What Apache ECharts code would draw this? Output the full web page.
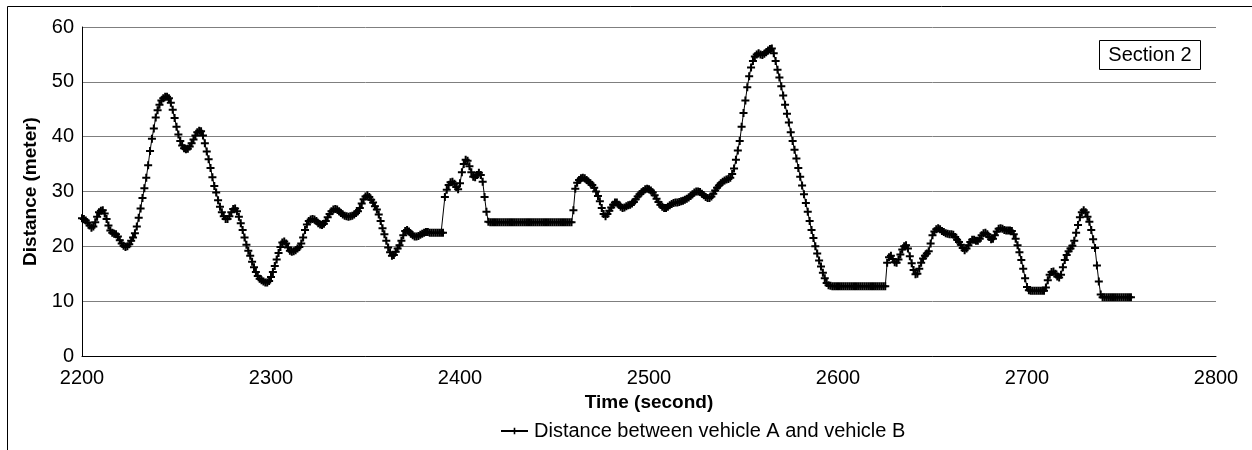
<!DOCTYPE html>
<html>
<head>
<meta charset="utf-8">
<script src="https://cdn.jsdelivr.net/npm/echarts@6/dist/echarts.min.js"></script>
<style>
html,body{margin:0;padding:0;background:#fff;}
#chart{width:1252px;height:450px;}
</style>
</head>
<body>
<div id="chart"></div>
<script>
// ---- data ----
const seriesName = 'Distance between vehicle A and vehicle B';
const startTime = 2200; // seconds, one sample per second
const distance = [
25.1,25.0,24.7,24.3,23.8,23.4,23.6,24.4,25.4,26.2,
26.5,26.6,26.0,25.0,23.8,22.9,22.5,22.3,22.2,21.8,
21.1,20.5,20.1,19.9,20.0,20.4,21.0,21.6,22.4,23.6,
25.2,26.9,28.8,30.6,32.5,34.8,37.4,39.6,41.5,43.5,
44.8,45.8,46.6,47.0,47.3,47.3,47.0,46.2,44.9,43.4,
41.8,40.4,39.2,38.4,37.9,37.7,37.8,38.2,38.8,39.5,
40.2,40.8,41.1,41.0,40.2,38.8,37.3,35.9,34.3,32.6,
31.0,29.8,28.4,27.2,26.2,25.5,25.0,25.0,25.5,26.2,
26.8,26.9,26.4,25.4,24.2,23.0,21.6,20.3,19.2,18.3,
17.2,16.2,15.3,14.6,14.1,13.8,13.6,13.4,13.4,13.7,
14.4,15.3,16.4,17.6,18.8,19.9,20.7,20.9,20.5,19.8,
19.2,19.0,19.1,19.3,19.6,19.9,20.5,21.6,23.0,24.0,
24.6,24.9,25.0,24.9,24.6,24.2,24.0,23.9,24.1,24.6,
25.3,25.9,26.4,26.7,26.8,26.7,26.4,26.1,25.8,25.6,
25.5,25.4,25.5,25.6,25.8,26.1,26.4,27.0,27.8,28.6,
29.1,29.3,29.0,28.5,28.0,27.3,26.7,25.8,24.6,23.3,
22.2,21.0,19.8,18.9,18.3,18.4,19.0,19.6,20.2,21.0,
22.0,22.8,23.0,22.7,22.3,22.0,21.8,21.8,21.9,22.1,
22.3,22.5,22.6,22.6,22.5,22.5,22.5,22.5,22.5,22.5,
22.5,22.5,29.0,30.3,31.2,31.7,31.8,31.4,30.8,30.4,
31.5,33.5,35.0,35.8,35.6,34.6,33.5,32.7,32.6,33.0,
33.4,33.0,31.8,29.0,26.3,24.5,24.4,24.4,24.4,24.4,
24.4,24.4,24.4,24.4,24.4,24.4,24.4,24.4,24.4,24.4,
24.4,24.4,24.4,24.4,24.4,24.4,24.4,24.4,24.4,24.4,
24.4,24.4,24.4,24.4,24.4,24.4,24.4,24.4,24.4,24.4,
24.4,24.4,24.4,24.4,24.4,24.4,24.4,24.4,24.4,24.4,
26.6,30.5,31.6,32.1,32.4,32.5,32.4,32.1,31.8,31.5,
31.2,30.7,30.0,29.2,28.2,27.0,25.9,25.5,25.9,26.5,
27.1,27.6,28.0,28.0,27.6,27.2,27.0,27.1,27.3,27.5,
27.6,27.8,28.1,28.6,29.1,29.5,29.8,30.1,30.4,30.5,
30.4,30.2,29.8,29.3,28.7,28.1,27.6,27.2,27.0,27.0,
27.2,27.5,27.7,27.9,28.0,28.0,28.1,28.2,28.3,28.5,
28.7,28.9,29.2,29.5,29.8,30.0,30.0,29.9,29.6,29.3,
29.0,28.8,28.8,29.1,29.6,30.2,30.7,31.1,31.5,31.8,
32.0,32.2,32.3,32.5,33.2,34.2,35.8,37.5,39.2,41.8,
44.3,46.6,49.0,51.0,52.6,53.8,54.6,55.0,55.2,55.0,
54.9,55.1,55.4,55.7,56.0,56.1,55.2,53.8,52.2,50.8,
49.2,47.5,45.8,44.2,42.6,40.8,39.2,37.6,36.0,34.3,
32.7,31.1,29.5,27.9,26.3,24.6,23.0,21.5,20.0,18.7,
17.4,16.3,15.2,14.2,13.3,12.9,12.8,12.7,12.7,12.7,
12.7,12.7,12.7,12.7,12.7,12.7,12.7,12.7,12.7,12.7,
12.7,12.7,12.7,12.7,12.7,12.7,12.7,12.7,12.7,12.7,
12.7,12.7,12.7,12.7,12.7,12.7,17.0,18.0,18.3,17.7,
17.1,17.0,17.6,18.5,19.4,20.0,20.2,19.6,18.2,16.9,
15.7,14.9,15.0,15.9,17.0,17.8,18.3,18.7,19.1,20.5,
22.0,22.7,23.1,23.3,23.1,22.8,22.6,22.4,22.3,22.2,
22.2,22.1,21.7,21.2,20.8,20.3,19.7,19.3,19.6,20.2,
20.8,21.2,21.2,21.0,21.0,21.4,22.0,22.4,22.5,22.2,
21.7,21.3,21.4,22.0,22.7,23.2,23.3,23.2,23.0,22.9,
22.9,22.9,22.8,22.2,21.4,20.2,18.9,17.5,15.9,14.2,
12.6,12.0,11.9,11.9,11.9,11.9,11.9,11.9,11.9,11.9,
12.5,13.8,14.8,15.3,15.4,15.0,14.5,14.3,14.8,16.2,
17.5,18.4,19.1,19.6,20.1,21.0,22.5,23.9,25.3,26.2,
26.6,26.2,25.4,24.5,23.0,21.3,19.7,16.5,13.6,11.2,
10.7,10.7,10.7,10.7,10.7,10.7,10.7,10.7,10.7,10.7,
10.7,10.7,10.7,10.7,10.7,10.7
];
const xAxisMin = 2200, xAxisMax = 2800, xAxisStep = 100;
const yAxisMin = 0, yAxisMax = 60, yAxisStep = 10;
const sectionLabel = 'Section 2';
const xTitle = 'Time (second)';
const yTitle = 'Distance (meter)';

const points = distance.map((v, i) => [startTime + i, v]);
const plusSymbol = 'path://M0,3H8V5H0Z M3,0H5V8H3Z';
const font = '"Liberation Sans", Arial, sans-serif';

const chart = echarts.init(document.getElementById('chart'), null, {renderer: 'canvas'});
chart.setOption({
  animation: false,
  backgroundColor: '#ffffff',
  textStyle: {fontFamily: font},
  grid: {left: 82, right: 36, top: 27, bottom: 94, containLabel: false},
  xAxis: {
    type: 'value', min: xAxisMin, max: xAxisMax, interval: xAxisStep,
    name: xTitle, nameLocation: 'middle', nameGap: 37,
    nameTextStyle: {fontSize: 19, fontWeight: 'bold', color: '#000', fontFamily: font},
    axisLine: {show: true, lineStyle: {color: '#000', width: 1}},
    axisTick: {show: false},
    axisLabel: {fontSize: 20, color: '#000', margin: 12, fontFamily: font,
      formatter: v => String(v)},
    splitLine: {show: false}
  },
  yAxis: {
    type: 'value', min: yAxisMin, max: yAxisMax, interval: yAxisStep,
    name: yTitle, nameLocation: 'middle', nameGap: 42, nameRotate: 90,
    nameTextStyle: {fontSize: 19, fontWeight: 'bold', color: '#000', fontFamily: font},
    axisLine: {show: true, lineStyle: {color: '#000', width: 1}},
    axisTick: {show: false},
    axisLabel: {fontSize: 20, color: '#000', margin: 8, fontFamily: font},
    splitLine: {show: true, lineStyle: {color: '#7f7f7f', width: 1}}
  },
  legend: {
    show: true, left: 500, top: 421, padding: 0, itemWidth: 27, itemHeight: 8,
    textStyle: {fontSize: 20, color: '#000', fontFamily: font, padding: [0,0,0,1]},
    data: [{name: seriesName}]
  },
  series: [{
    name: seriesName,
    type: 'line',
    data: points,
    showSymbol: true,
    symbol: plusSymbol,
    symbolSize: 8,
    lineStyle: {color: '#000', width: 1},
    itemStyle: {color: '#000'},
    emphasis: {disabled: true}
  }],
  graphic: [
    {type: 'rect', shape: {x: 7.5, y: 6.5, width: 1300, height: 500},
     style: {fill: 'none', stroke: '#000', lineWidth: 1}, silent: true},
    {type: 'rect', shape: {x: 1099.5, y: 40.5, width: 101, height: 29},
     style: {fill: '#fff', stroke: '#000', lineWidth: 1}, z: 10},
    {type: 'text', x: 1150, y: 55, z: 11,
     style: {text: sectionLabel, fontSize: 20, fill: '#000', fontFamily: font,
       textAlign: 'center', textVerticalAlign: 'middle', verticalAlign: 'middle'}}
  ]
});
</script>
</body>
</html>
